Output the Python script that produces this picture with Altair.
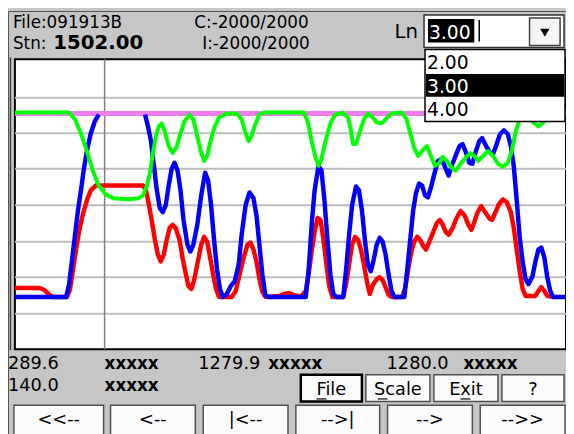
import altair as alt
import pandas as pd

# ---------------- data ----------------
# x: position along the survey, y: signal level (arbitrary units)
green_x = [15, 70, 76, 82, 88, 94, 100, 107, 115, 130, 140, 145, 149, 152, 155, 158, 161, 164, 167, 171,
           175, 179, 183, 187, 192, 196, 200, 204, 207, 210, 213, 217, 222, 230, 240, 245, 249, 252, 255, 258,
           263, 268, 308, 312, 316, 320, 323, 326, 330, 335, 340, 347, 353, 356, 358, 361, 365, 369, 373, 378,
           382, 387, 392, 397, 407, 412, 416, 420, 424, 428, 433, 437, 441, 445, 449, 453, 458, 462, 467, 472,
           477, 481, 485, 490, 495, 500, 505, 510, 515, 519, 523, 527, 532, 540, 546, 552, 558, 563, 574]
green_level = [241, 241, 234, 220, 202, 182, 167, 158, 154, 153, 154, 157, 167, 180, 200, 217, 227, 230, 222, 207,
               200, 206, 220, 232, 239, 234, 217, 200, 192, 197, 210, 225, 236, 240, 240, 234, 220, 212, 217, 227,
               239, 241, 241, 232, 212, 195, 187, 194, 212, 230, 239, 241, 236, 222, 209, 209, 222, 234, 240, 236,
               231, 230, 235, 240, 241, 235, 220, 205, 197, 202, 207, 197, 187, 189, 196, 192, 185, 182, 189, 195,
               200, 197, 192, 197, 202, 197, 189, 186, 190, 202, 222, 234, 241, 232, 227, 232, 239, 241, 241]

blue1_x = [15, 67, 70, 73, 76, 79, 82, 85, 88, 92, 96, 100]
blue1_level = [54, 54, 67, 92, 117, 142, 162, 184, 202, 220, 232, 239]

blue2_x = [147, 150, 153, 156, 159, 162, 165, 168, 171, 174, 177, 180, 183, 186, 190, 193, 196, 200, 204, 208,
           211, 214, 217, 220, 223, 226, 230, 234, 238, 242, 245, 249, 253, 257, 260, 263, 266, 269, 272, 310,
           313, 316, 319, 323, 326, 329, 332, 335, 338, 341, 348, 351, 354, 357, 361, 364, 367, 370, 373, 376,
           379, 382, 385, 388, 391, 394, 397, 400, 410, 413, 416, 419, 422, 425, 428, 431, 434, 437, 440, 444,
           448, 452, 455, 458, 462, 466, 469, 472, 476, 479, 482, 486, 489, 493, 497, 500, 503, 507, 511, 515,
           518, 521, 524, 527, 530, 533, 536, 540, 543, 546, 549, 552, 555, 558, 561, 574]
blue2_level = [239, 227, 212, 187, 162, 144, 140, 147, 167, 184, 190, 182, 162, 132, 107, 100, 107, 127, 157, 180,
               172, 147, 112, 82, 62, 54, 57, 65, 70, 87, 117, 147, 160, 154, 137, 107, 77, 56, 54, 54,
               82, 127, 162, 187, 182, 152, 112, 77, 57, 54, 54, 82, 117, 147, 166, 162, 142, 112, 87, 80,
               92, 107, 114, 110, 97, 77, 60, 54, 54, 82, 112, 142, 160, 169, 167, 157, 155, 165, 177, 192,
               194, 184, 177, 187, 197, 207, 209, 202, 190, 189, 200, 212, 215, 207, 200, 199, 207, 219, 223, 219,
               207, 187, 152, 115, 90, 72, 67, 75, 90, 102, 104, 94, 74, 60, 54, 54]

red_x = [15, 40, 45, 50, 54, 68, 71, 74, 77, 80, 84, 88, 92, 97, 145, 148, 151, 154, 157, 160,
         163, 166, 169, 172, 175, 178, 182, 185, 188, 191, 194, 197, 200, 204, 207, 210, 213, 216, 219, 222,
         235, 239, 243, 247, 251, 254, 257, 260, 263, 266, 269, 283, 288, 293, 298, 305, 310, 313, 316, 319,
         322, 325, 328, 331, 334, 337, 348, 351, 354, 357, 360, 363, 366, 369, 372, 375, 378, 382, 385, 388,
         391, 394, 397, 408, 411, 414, 417, 420, 423, 426, 429, 432, 435, 439, 443, 446, 449, 452, 455, 459,
         463, 467, 471, 475, 478, 481, 484, 488, 492, 496, 499, 502, 506, 510, 514, 518, 521, 524, 527, 530,
         533, 543, 546, 549, 552, 555, 560]
red_level = [63, 63, 61, 56, 54, 54, 62, 82, 102, 120, 138, 152, 162, 167, 167, 162, 147, 130, 112, 97,
             90, 97, 112, 124, 127, 124, 112, 94, 79, 65, 62, 72, 87, 107, 115, 110, 94, 77, 62, 54,
             54, 60, 77, 94, 107, 109, 102, 90, 72, 59, 54, 55, 57, 58, 56, 54, 60, 77, 100, 120,
             134, 132, 112, 87, 64, 54, 54, 67, 87, 107, 115, 112, 102, 87, 70, 57, 66, 72, 74, 71,
             64, 56, 54, 54, 64, 82, 99, 110, 115, 112, 106, 102, 109, 119, 129, 132, 127, 120, 117, 124,
             134, 141, 137, 127, 122, 130, 139, 146, 140, 134, 132, 139, 148, 153, 150, 140, 124, 102, 80, 62,
             55, 55, 60, 64, 60, 55, 54]

limit_level = 240
cursor_x = 106
grid_levels = [37, 74, 110, 147, 184, 220, 256]

header_file = "File:091913B"
header_stn_label = "Stn:"
header_stn_value = "1502.00"
header_c = "C:-2000/2000"
header_i = "I:-2000/2000"
ln_label = "Ln"
ln_value = "3.00"
ln_options = ["2.00", "3.00", "4.00"]
row1_values = ["289.6", "xxxxx", "1279.9", "xxxxx", "1280.0", "xxxxx"]
row2_values = ["140.0", "xxxxx"]
menu_buttons = ["File", "Scale", "Exit", "?"]
nav_buttons = ["<<--", "<--", "|<--", "-->|", "-->", "-->>"]

# ---------------- build tables ----------------
def series(name, xs, ys, seg):
    assert len(xs) == len(ys), name
    return pd.DataFrame({"x": xs, "level": ys, "series": name, "seg": seg})

green_df = series("green", green_x, green_level, "g")
blue_df = pd.concat([series("blue", blue1_x, blue1_level, "b1"),
                     series("blue", blue2_x, blue2_level, "b2")])
red_df = series("red", red_x, red_level, "r")

FONT = "DejaVu Sans"
W, H = 559, 294
OX, OY = 15, 57   # screen position of the plot's top-left corner (for UI chrome)

xs = alt.Scale(domain=[15, 574], nice=False, zero=False)
ys = alt.Scale(domain=[1, 295], nice=False, zero=False)
X = lambda f="x": alt.X(f, type="quantitative", scale=xs, axis=None)
Y = lambda f="level": alt.Y(f, type="quantitative", scale=ys, axis=None)

grid = alt.Chart(pd.DataFrame({"level": grid_levels})).mark_rule(
    color="#bdbdbd", strokeWidth=2).encode(y=Y())
limit = alt.Chart(pd.DataFrame({"level": [limit_level]})).mark_rule(
    color="#f07cf0", strokeWidth=5).encode(y=Y())
cursor = alt.Chart(pd.DataFrame({"x": [cursor_x]})).mark_rule(
    color="#808080", strokeWidth=1.5).encode(x=X())

def line(df, color, width):
    return alt.Chart(df).mark_line(color=color, strokeWidth=width, clip=True,
                                   strokeJoin="round").encode(
        x=X(), y=Y(), detail="seg:N", order="x:Q")

red_line = line(red_df, "#ff0000", 4.5)
blue_line = line(blue_df, "#0000ff", 4.5)
green_line = line(green_df, "#00ff00", 4)

ONE = alt.Data(values=[{}])

def box(x1, y1, x2, y2, fill="white", stroke=None, sw=1):
    kw = {"fill": fill}
    if stroke:
        kw.update(stroke=stroke, strokeWidth=sw)
    return alt.Chart(ONE).mark_rect(**kw).encode(
        x=alt.value(x1 - OX), x2=alt.value(x2 - OX),
        y=alt.value(y1 - OY), y2=alt.value(y2 - OY))

def frame(x1, y1, x2, y2, stroke, sw=1):
    return alt.Chart(ONE).mark_rect(filled=False, stroke=stroke, strokeWidth=sw).encode(
        x=alt.value(x1 - OX), x2=alt.value(x2 - OX),
        y=alt.value(y1 - OY), y2=alt.value(y2 - OY))

def label(txt, x, y, size=17, weight="normal", color="black", align="left"):
    return alt.Chart(ONE).mark_text(text=txt, align=align, baseline="alphabetic",
                                    fontSize=size, fontWeight=weight, color=color,
                                    font=FONT).encode(
        x=alt.value(x - OX), y=alt.value(y - OY))

def hline(x1, x2, y, color="black", sw=1):
    return alt.Chart(ONE).mark_rule(color=color, strokeWidth=sw).encode(
        x=alt.value(x1 - OX), x2=alt.value(x2 - OX), y=alt.value(y - OY))

def vline(x, y1, y2, color="black", sw=1):
    return alt.Chart(ONE).mark_rule(color=color, strokeWidth=sw).encode(
        x=alt.value(x - OX), y=alt.value(y1 - OY), y2=alt.value(y2 - OY))

chrome = []
# window frame and plot frame
chrome.append(frame(8.5, 8.5, 700, 700, "#505050", 1))
chrome.append(vline(10.5, 55, 352, "#404040", 1.5))

# header
chrome += [
    label(header_file, 13, 25, 17),
    label(header_stn_label, 13, 47, 17),
    label(header_stn_value, 54, 47, 20, "bold"),
    label(header_c, 197, 25, 17),
    label(header_i, 205, 47, 17),
    label(ln_label, 400, 35, 20),
]
# combobox
chrome += [
    box(430, 12, 572, 45, "white", "#303030", 1.5),
    box(434, 16, 481, 40, "black"),
    label(ln_value, 435, 36, 19, color="white"),
    vline(486, 17, 39, "black", 1.5),
    box(537, 15, 568, 43, "#f4f4f4", "#404040", 1.5),
    alt.Chart(ONE).mark_point(shape="triangle-down", filled=True, size=90, color="black",
                              opacity=1).encode(x=alt.value(552.5 - OX), y=alt.value(30 - OY)),
]
# dropdown list
chrome += [
    box(431, 47, 573, 120, "white", "black", 1.5),
    box(432, 72, 572, 95, "black"),
    label(ln_options[0], 433, 67, 19),
    label(ln_options[1], 433, 91, 19, color="white"),
    label(ln_options[2], 433, 115, 19),
]
# footer text rows
row1_x = [8, 106, 201, 272, 392, 470]
for t, xx in zip(row1_values, row1_x):
    bold = t.startswith("x")
    chrome.append(label(t, xx, 371, 17 if bold else 18, "bold" if bold else "normal"))
for t, xx in zip(row2_values, [8, 106]):
    bold = t.startswith("x")
    chrome.append(label(t, xx, 393, 17 if bold else 18, "bold" if bold else "normal"))

# menu buttons
menu_pos = [(305, 367), (371, 436), (440, 505), (509, 572)]
for i, (t, (a, b)) in enumerate(zip(menu_buttons, menu_pos)):
    chrome.append(box(a, 377, b, 404, "#fbfbfb", "black" if i == 0 else "#505050", 2.5 if i == 0 else 1.5))
    chrome.append(label(t, (a + b) / 2, 398, 18, align="center"))
# underlined access keys
chrome += [hline(321, 331, 401.5, "black", 1.2), hline(383, 393, 401.5, "black", 1.2),
           hline(467, 477, 401.5, "black", 1.2)]

# navigation buttons
nav_pos = [(14, 105), (112, 198), (206, 292), (300, 385), (393, 479), (487, 573)]
for t, (a, b) in zip(nav_buttons, nav_pos):
    chrome.append(box(a, 408, b, 450, "#fbfbfb", "#505050", 1.5))
    chrome.append(label(t, (a + b) / 2, 428, 18, align="center"))

chart = alt.layer(grid, cursor, limit, red_line, blue_line, green_line, *chrome).properties(
    width=W, height=H,
    padding={"left": OX - 8, "top": OY - 8, "right": 0, "bottom": 434 - 8 - (OY - 8) - H},
    autosize=alt.AutoSizeParams(type="none"),
    background="#c6c6c6",
).configure_view(fill="white", stroke="black", strokeWidth=2)

chart.save("out.html", embed_options={"renderer": "svg", "actions": False})
